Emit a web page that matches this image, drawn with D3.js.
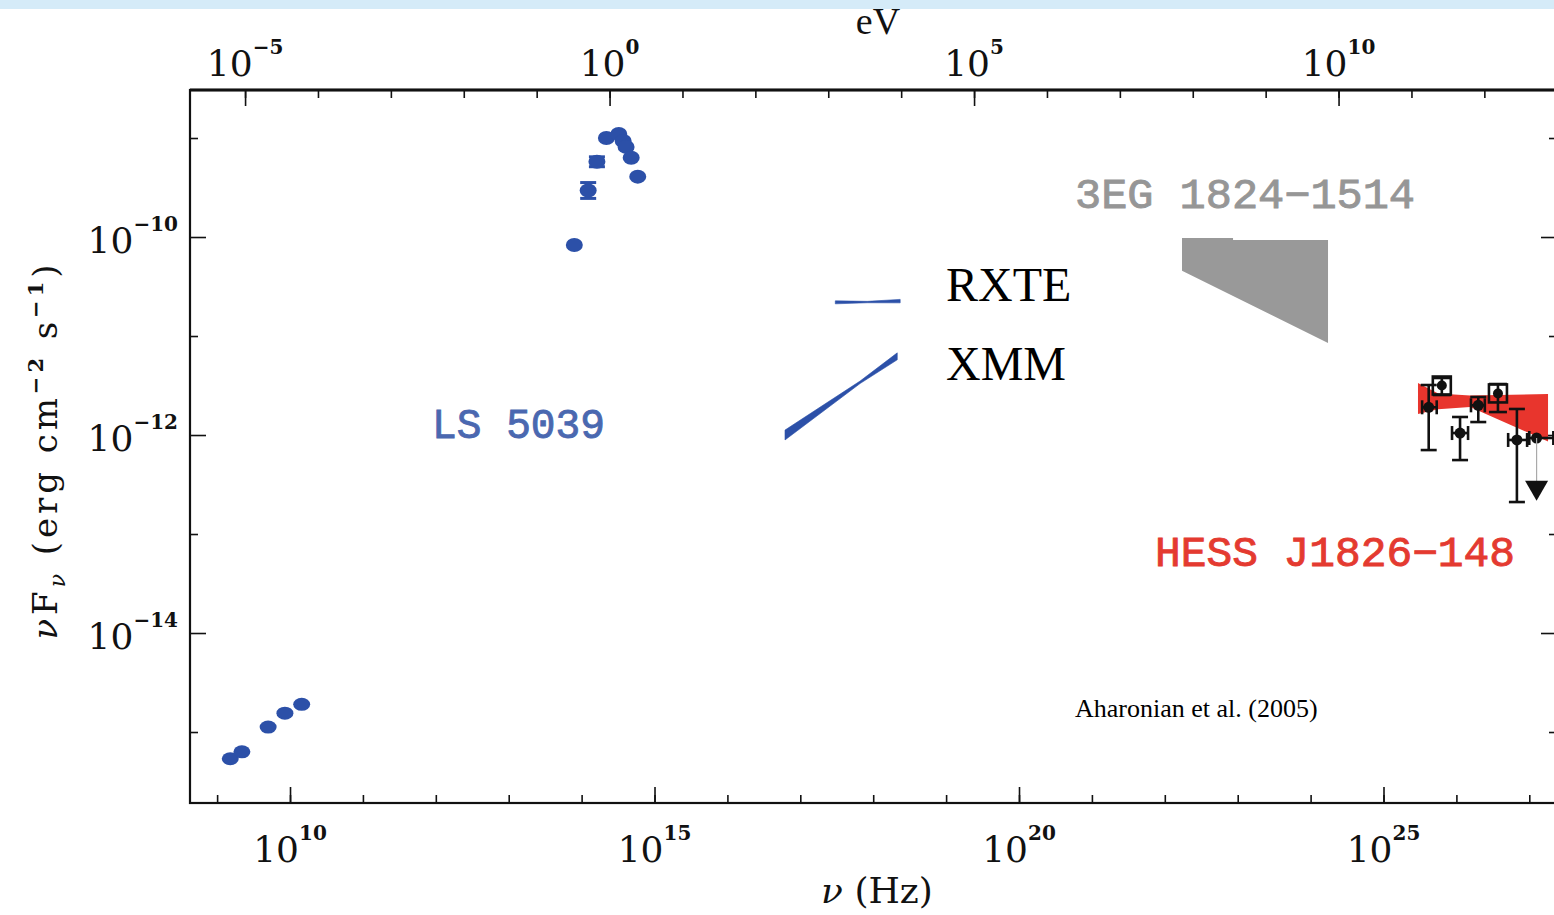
<!DOCTYPE html>
<html>
<head>
<meta charset="utf-8">
<script src="https://cdn.jsdelivr.net/npm/d3@7"></script>
<style>
  html, body { margin: 0; padding: 0; background: #ffffff; }
  svg { display: block; }
</style>
</head>
<body>
<svg id="sed" width="1554" height="915"></svg>
<script>
// Spectral energy distribution of LS 5039 / HESS J1826-148.
// All values are log10(nu / Hz) and log10(nuF_nu / erg cm^-2 s^-1).

// Radio (LS 5039)
const radioNu = [9.18, 9.34, 9.70, 9.93, 10.16];
const radioF  = [-15.27, -15.20, -14.95, -14.81, -14.72];

// Optical / near-IR (LS 5039)
const optNu  = [13.90, 14.09, 14.21, 14.34, 14.51, 14.57, 14.61, 14.68, 14.77];
const optF   = [-10.08, -9.53, -9.24, -9.00, -8.96, -9.03, -9.09, -9.20, -9.39];
const optErr = [0, 0.08, 0.05, 0, 0, 0, 0, 0, 0];

// X-ray bow-ties
const rxteNu = [17.48, 17.92, 18.37];
const rxteHi = [-10.645, -10.650, -10.630];
const rxteLo = [-10.675, -10.664, -10.665];

const xmmNu = [16.79, 17.82, 18.33];
const xmmHi = [-11.95, -11.455, -11.17];
const xmmLo = [-12.05, -11.48, -11.24];

// EGRET 3EG 1824-1514 butterfly outline
const egretNu = [22.236, 22.936, 22.936, 24.239, 24.239, 22.236];
const egretF  = [-10.01, -10.01, -10.03, -10.03, -11.07, -10.34];

// HESS J1826-148 power-law butterfly
const hessNu = [25.473, 25.75, 26.187, 27.257];
const hessHi = [-11.475, -11.58, -11.60, -11.586];
const hessLo = [-11.788, -11.74, -11.717, -12.065];

// HESS spectral points (filled)
const hessPtNu   = [25.62, 26.05, 26.30, 26.83, 27.10];
const hessPtF    = [-11.72, -11.98, -11.70, -12.05, -12.03];
const hessPtUp   = [-11.495, -11.818, -11.616, -11.737, -12.03];
const hessPtDown = [-12.152, -12.253, -11.869, -12.677, -12.03];
const hessPtNuLo = [25.53, 25.94, 26.20, 26.71, 27.00];
const hessPtNuHi = [25.73, 26.16, 26.39, 26.97, 27.33];

// HESS spectral points (open squares)
const hessSqNu   = [25.80, 26.57];
const hessSqF    = [-11.50, -11.58];
const hessSqUp   = [-11.424, -11.485];
const hessSqDown = [-11.596, -11.768];

// Upper limit
const ulNu   = [27.10];
const ulFrom = [-12.03];
const ulF    = [-12.53];

// Tick exponents
const nuMajor = [10, 15, 20, 25];
const nuMinor = d3.range(9, 28);
const evMajor = [-5, 0, 5, 10];
const evMinor = d3.range(-5, 13);
const fMajor  = [-10, -12, -14];
const fMinor  = [-9, -11, -13, -15];

// log10 of Planck constant in eV s
const LOG_H_EV = Math.log10(4.135667e-15);

const P = v => Math.pow(10, v);

const svg = d3.select("#sed");
const L = 190, R = 1557, T = 90, B = 803;

const x = d3.scaleLog().domain([P(8.628), P(27.38)]).range([L, R]);
const xEv = d3.scaleLog().domain(x.domain().map(v => v * P(LOG_H_EV))).range([L, R]);
const y = d3.scaleLog().domain([P(-15.717), P(-8.515)]).range([B, T]);

// top band
svg.append("rect").attr("x", 0).attr("y", 0).attr("width", 1554).attr("height", 9)
  .attr("fill", "#d5ebf8");

const SERIF = "'DejaVu Serif', serif";

// ---- axes ----
function ticks(axis, scale, vals, size, g) {
  g.call(axis(scale).tickValues(vals.map(P)).tickSize(size).tickFormat(""))
    .call(s => s.select(".domain").remove())
    .selectAll(".tick line").attr("stroke", "#111").attr("stroke-width", 1.6);
}
const gx1 = svg.append("g").attr("transform", `translate(0,${B})`);
ticks(d3.axisBottom, x, nuMinor, -8, gx1);
const gx2 = svg.append("g").attr("transform", `translate(0,${B})`);
ticks(d3.axisBottom, x, nuMajor, -16, gx2);

const gt1 = svg.append("g").attr("transform", `translate(0,${T})`);
ticks(d3.axisTop, xEv, evMinor, -8, gt1);
const gt2 = svg.append("g").attr("transform", `translate(0,${T})`);
ticks(d3.axisTop, xEv, evMajor, -16, gt2);

const gl1 = svg.append("g").attr("transform", `translate(${L},0)`);
ticks(d3.axisLeft, y, fMinor, -8, gl1);
const gl2 = svg.append("g").attr("transform", `translate(${L},0)`);
ticks(d3.axisLeft, y, fMajor, -16, gl2);

const gr1 = svg.append("g").attr("transform", `translate(${R},0)`);
ticks(d3.axisRight, y, fMinor, -8, gr1);
const gr2 = svg.append("g").attr("transform", `translate(${R},0)`);
ticks(d3.axisRight, y, fMajor, -16, gr2);

// frame
svg.append("rect").attr("x", L).attr("y", T).attr("width", R - L).attr("height", B - T)
  .attr("fill", "none").attr("stroke", "#111").attr("stroke-width", 2.2);
svg.append("line").attr("x1", L).attr("x2", R).attr("y1", T).attr("y2", T)
  .attr("stroke", "#111").attr("stroke-width", 3);

// power-of-ten labels
function powLabel(g, px, py, exp, anchor) {
  const t = g.append("text").attr("x", px).attr("y", py)
    .attr("text-anchor", anchor)
    .attr("font-family", SERIF).attr("font-size", 36).attr("fill", "#111");
  t.append("tspan").text("10");
  t.append("tspan").attr("dy", -22).attr("font-size", 20).attr("font-weight", "bold")
    .text(String(exp).replace("-", "\u2212"));
}
const labels = svg.append("g");
nuMajor.forEach(e => powLabel(labels, x(P(e)), 862, e, "middle"));
evMajor.forEach(e => powLabel(labels, xEv(P(e)), 76, e, "middle"));
fMajor.forEach(e => powLabel(labels, 178, y(P(e)) + 16, e, "end"));

// axis titles
const xt = svg.append("text").attr("x", 877).attr("y", 903).attr("text-anchor", "middle")
  .attr("font-family", SERIF).attr("font-size", 36).attr("fill", "#111");
xt.append("tspan").attr("font-style", "italic").text("\u03bd");
xt.append("tspan").text(" (Hz)");

svg.append("text").attr("x", 878).attr("y", 34).attr("text-anchor", "middle")
  .attr("font-family", "'Liberation Serif', serif").attr("font-size", 38).attr("fill", "#111")
  .text("eV");

const yt = svg.append("text")
  .attr("transform", "translate(57,452) rotate(-90)")
  .attr("text-anchor", "middle")
  .attr("font-family", SERIF).attr("font-size", 34).attr("fill", "#111")
  .attr("textLength", 375).attr("lengthAdjust", "spacing");
yt.append("tspan").attr("font-style", "italic").text("\u03bd");
yt.append("tspan").text("F");
yt.append("tspan").attr("dy", 8).attr("font-size", 22).attr("font-style", "italic").text("\u03bd");
yt.append("tspan").attr("dy", -8).text(" (erg cm");
yt.append("tspan").attr("dy", -14).attr("font-size", 21).attr("font-weight", "bold").text("\u22122");
yt.append("tspan").attr("dy", 14).text(" s");
yt.append("tspan").attr("dy", -14).attr("font-size", 21).attr("font-weight", "bold").text("\u22121");
yt.append("tspan").attr("dy", 14).text(")");

// ---- data ----
const plot = svg.append("g");
const BLUE = "#2c50a8";
const RED = "#e8352d";

function band(nu, hi, lo) {
  const pts = nu.map((n, i) => [x(P(n)), y(P(hi[i]))])
    .concat(nu.map((n, i) => [x(P(n)), y(P(lo[i]))]).reverse());
  return d3.line()(pts) + "Z";
}

// HESS butterfly
plot.append("path").attr("d", band(hessNu, hessHi, hessLo)).attr("fill", RED);

// EGRET
plot.append("path")
  .attr("d", d3.line()(egretNu.map((n, i) => [x(P(n)), y(P(egretF[i]))])) + "Z")
  .attr("fill", "#999999");

// X-ray bow-ties
plot.append("path").attr("d", band(rxteNu, rxteHi, rxteLo)).attr("fill", BLUE)
  .attr("stroke", BLUE).attr("stroke-width", 0.6);
plot.append("path").attr("d", band(xmmNu, xmmHi, xmmLo)).attr("fill", BLUE)
  .attr("stroke", BLUE).attr("stroke-width", 0.6);

// radio points
plot.selectAll(".radio").data(radioNu).join("ellipse")
  .attr("cx", d => x(P(d))).attr("cy", (d, i) => y(P(radioF[i])))
  .attr("rx", 8.5).attr("ry", 6.5).attr("fill", BLUE);

// optical points with error bars
optNu.forEach((n, i) => {
  const g = plot.append("g");
  const cx = x(P(n));
  if (optErr[i] > 0) {
    const y1 = y(P(optF[i] + optErr[i])), y2 = y(P(optF[i] - optErr[i]));
    g.append("line").attr("x1", cx).attr("x2", cx).attr("y1", y1).attr("y2", y2)
      .attr("stroke", BLUE).attr("stroke-width", 3);
    [y1, y2].forEach(yy => g.append("line").attr("x1", cx - 8).attr("x2", cx + 8)
      .attr("y1", yy).attr("y2", yy).attr("stroke", BLUE).attr("stroke-width", 3));
  }
  g.append("ellipse").attr("cx", cx).attr("cy", y(P(optF[i])))
    .attr("rx", 8.5).attr("ry", 7).attr("fill", BLUE);
});

// HESS filled points
const ink = "#111";
const SW = 2.6;
hessPtNu.forEach((n, i) => {
  const g = plot.append("g");
  const cx = x(P(n)), cy = y(P(hessPtF[i]));
  const xl = x(P(hessPtNuLo[i])), xr = x(P(hessPtNuHi[i]));
  g.append("line").attr("x1", xl).attr("x2", xr).attr("y1", cy).attr("y2", cy)
    .attr("stroke", ink).attr("stroke-width", SW);
  [xl, xr].forEach(xx => g.append("line").attr("x1", xx).attr("x2", xx)
    .attr("y1", cy - 7).attr("y2", cy + 7).attr("stroke", ink).attr("stroke-width", SW));
  const yu = y(P(hessPtUp[i])), yd = y(P(hessPtDown[i]));
  if (Math.abs(yd - yu) > 1) {
    g.append("line").attr("x1", cx).attr("x2", cx).attr("y1", yu).attr("y2", yd)
      .attr("stroke", ink).attr("stroke-width", SW);
    [yu, yd].forEach(yy => g.append("line").attr("x1", cx - 8).attr("x2", cx + 8)
      .attr("y1", yy).attr("y2", yy).attr("stroke", ink).attr("stroke-width", SW));
  }
  g.append("circle").attr("cx", cx).attr("cy", cy).attr("r", 5.5).attr("fill", ink);
});

// HESS open squares
hessSqNu.forEach((n, i) => {
  const g = plot.append("g");
  const cx = x(P(n)), cy = y(P(hessSqF[i]));
  const yu = y(P(hessSqUp[i])), yd = y(P(hessSqDown[i]));
  g.append("line").attr("x1", cx).attr("x2", cx).attr("y1", yu).attr("y2", yd)
    .attr("stroke", ink).attr("stroke-width", SW);
  [yu, yd].forEach(yy => g.append("line").attr("x1", cx - 9).attr("x2", cx + 9)
    .attr("y1", yy).attr("y2", yy).attr("stroke", ink).attr("stroke-width", SW));
  g.append("rect").attr("x", cx - 9).attr("y", cy - 9).attr("width", 18).attr("height", 18)
    .attr("fill", "none").attr("stroke", ink).attr("stroke-width", SW);
  g.append("circle").attr("cx", cx).attr("cy", cy).attr("r", 5).attr("fill", ink);
});

// upper limit
ulNu.forEach((n, i) => {
  const cx = x(P(n));
  plot.append("line").attr("x1", cx).attr("x2", cx)
    .attr("y1", y(P(ulFrom[i]))).attr("y2", y(P(ulF[i])))
    .attr("stroke", "#aaaaaa").attr("stroke-width", 1.2);
  plot.append("path")
    .attr("d", d3.symbol(d3.symbolTriangle, 230)())
    .attr("transform", `translate(${cx},${y(P(ulF[i]))}) rotate(180)`)
    .attr("fill", ink);
});

// ---- annotations ----
const MONO = "'Liberation Mono', monospace";
function tag(txt, px, py, color, len) {
  svg.append("text").attr("x", px).attr("y", py)
    .attr("font-family", MONO).attr("font-size", 42)
    .attr("fill", color).attr("stroke", color).attr("stroke-width", 0.9)
    .attr("textLength", len).attr("lengthAdjust", "spacingAndGlyphs")
    .text(txt);
}
tag("LS 5039", 432, 438, "#4a68b0", 173);
tag("3EG 1824\u22121514", 1075, 208, "#969696", 340);
tag("HESS J1826\u2212148", 1155, 566, "#e43a30", 360);

const TIMES = "'Liberation Serif', serif";
svg.append("text").attr("x", 946).attr("y", 301).attr("font-family", TIMES)
  .attr("font-size", 48).attr("fill", "#000").text("RXTE");
svg.append("text").attr("x", 946).attr("y", 380).attr("font-family", TIMES)
  .attr("font-size", 48).attr("fill", "#000").text("XMM");
svg.append("text").attr("x", 1075).attr("y", 717).attr("font-family", TIMES)
  .attr("font-size", 26).attr("fill", "#000").text("Aharonian et al. (2005)");
</script>
</body>
</html>
